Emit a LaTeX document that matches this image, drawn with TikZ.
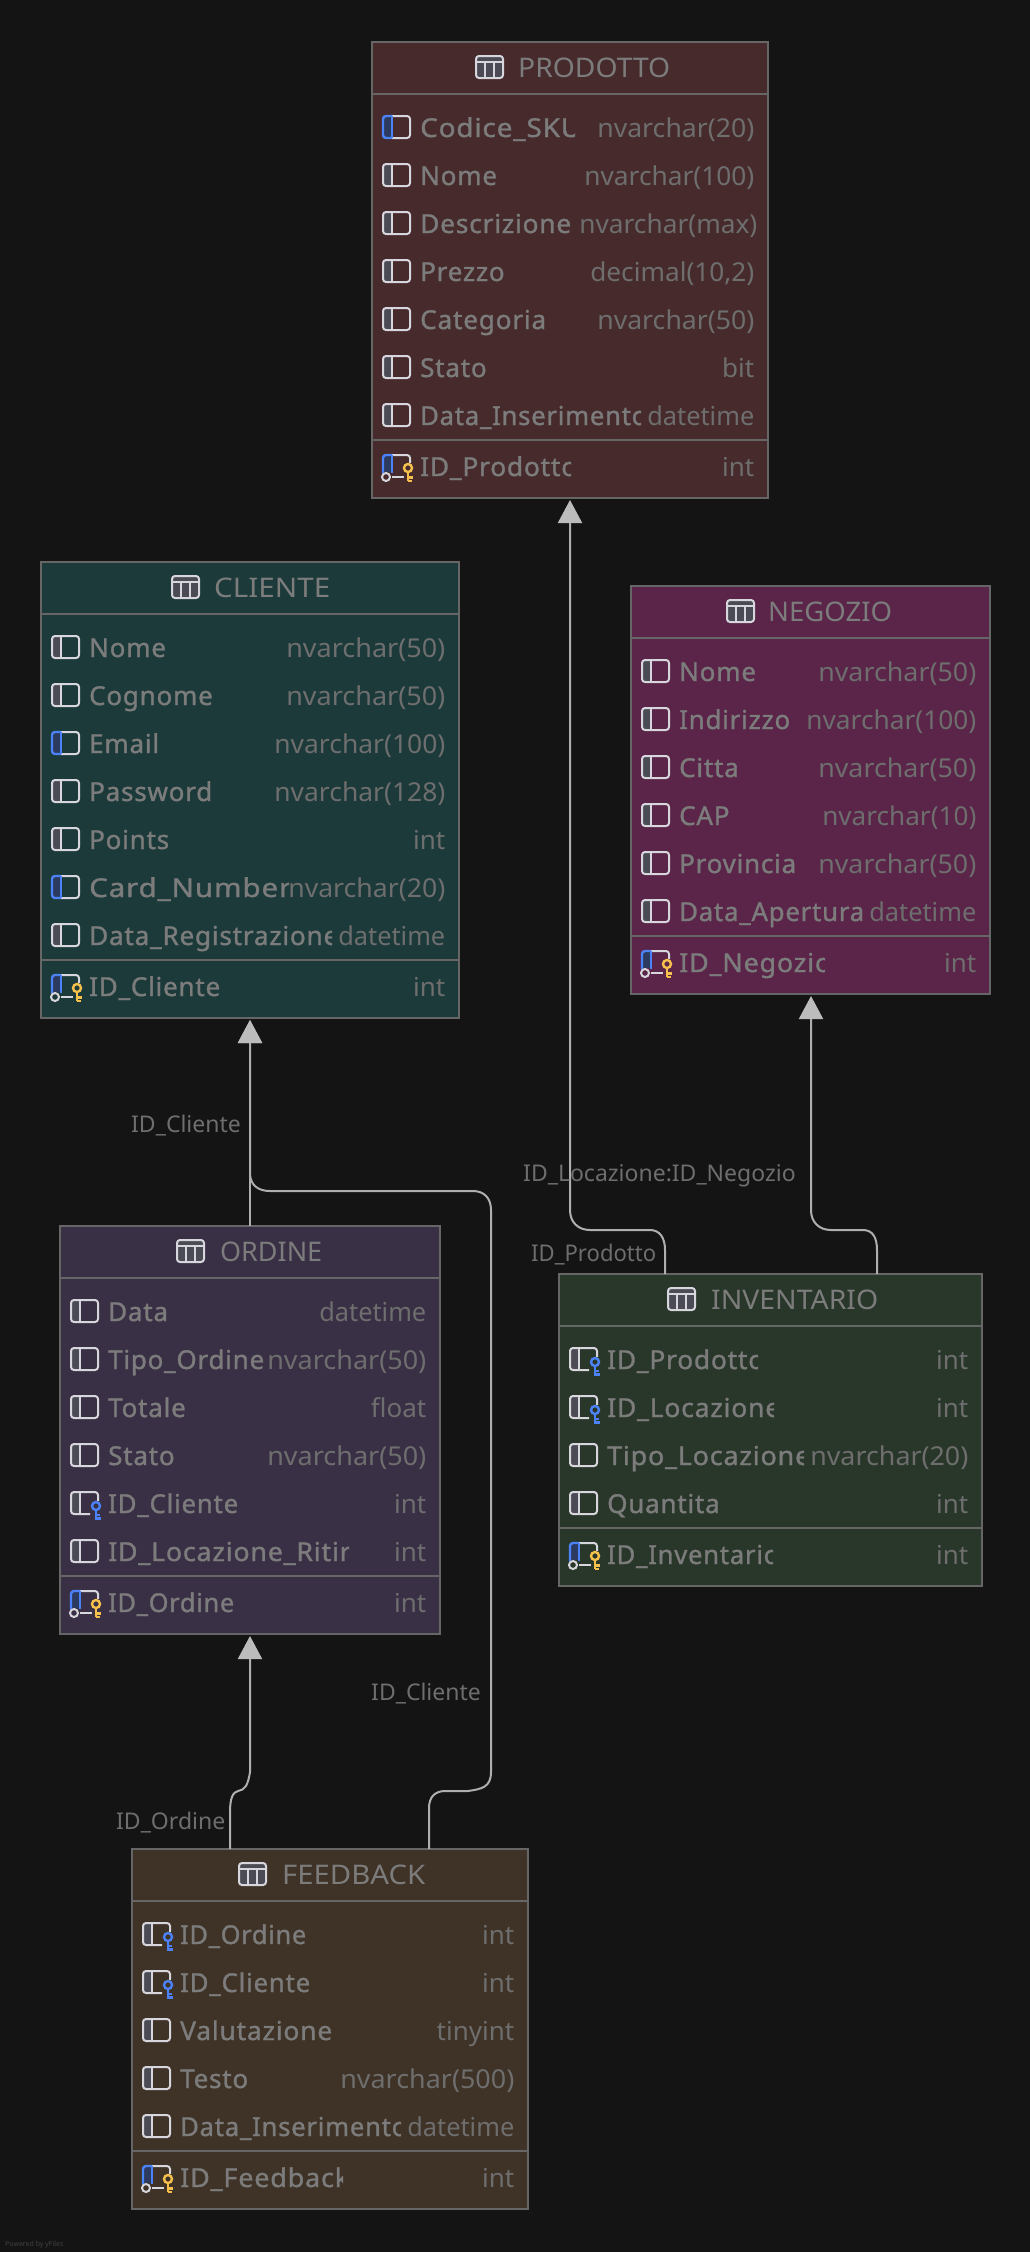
\documentclass[tikz,border=0pt]{standalone}
\usepackage{graphicx}
\usepackage{fontspec}
\usetikzlibrary{arrows.meta}
\setmainfont{Noto Sans}
\newfontfamily\namefont[FakeBold=1.2,LetterSpace=3]{Noto Sans}
\newfontfamily\plainfont{Noto Sans}
\definecolor{bgc}{HTML}{141414}
\definecolor{bordc}{HTML}{666666}
\definecolor{namec}{HTML}{7C7C7C}
\definecolor{titlec}{HTML}{7C7C7C}
\definecolor{typec}{HTML}{6E6E6E}
\definecolor{lblc}{HTML}{6E6E6E}
\definecolor{linec}{HTML}{AFAFAF}
\definecolor{tipc}{HTML}{BCBCBC}
\definecolor{iconl}{HTML}{D6D6DC}
\definecolor{iconf}{HTML}{4A4B55}
\definecolor{iconb}{HTML}{4C82F7}
\definecolor{icond}{HTML}{2B3A5E}
\definecolor{icony}{HTML}{F5C04C}
\definecolor{cprod}{HTML}{472B2C}
\definecolor{ccli}{HTML}{1C3A3A}
\definecolor{cneg}{HTML}{5A2549}
\definecolor{cord}{HTML}{3A3046}
\definecolor{cinv}{HTML}{29372A}
\definecolor{cfee}{HTML}{3F3226}
\tikzset{
  x=1pt,y=-1pt,
  tablebox/.style={draw=bordc,line width=2pt,inner sep=0pt,outer sep=0pt,anchor=north west},
  rule/.style={draw=bordc,line width=2pt},
  titletxt/.style={inner sep=0pt,anchor=base west,text=titlec,font=\plainfont\fontsize{27}{30}\selectfont},
  nametxt/.style={inner sep=0pt,anchor=base west,text=namec,font=\namefont\fontsize{26}{30}\selectfont},
  typetxt/.style={inner sep=0pt,anchor=base east,text=typec,font=\plainfont\fontsize{26}{30}\selectfont},
  lbltxt/.style={inner sep=0pt,anchor=base west,text=lblc,font=\plainfont\fontsize{23}{28}\selectfont},
  conn/.style={draw=linec,line width=2pt},
  arrowed/.style={conn,-{Triangle[length=23pt,width=24pt,color=tipc]}},
  il/.style={draw=iconl,line width=2pt},
  ib/.style={draw=iconb,line width=2.4pt},
  iy/.style={draw=icony,line width=2.4pt},
  ibk/.style={draw=iconb,line width=2.4pt},
}
\newcount\ypos \newcount\nid \newcount\tL \newcount\tR
\newcommand\fitw[2]{\setbox0=\hbox{#2}\pgfmathsetmacro\sx{(#1)/\the\wd0}\scalebox{\sx}[1]{#2}}
\newcommand\tablehead[9]{% name,left,top,right,height,fill,title,iconx,titlex
  \global\tL=#2\relax \global\tR=#4\relax
  \node[tablebox,fill=#6,minimum width=#4-#2,minimum height=#5] (#1) at (#2,#3) {};
  \draw[rule] (#2,#3+52) -- (#4,#3+52);
  \fill[iconf,rounded corners=3pt] (#8,#3+14) rectangle (#8+27,#3+36);
  \draw[il,rounded corners=3pt] (#8,#3+14) rectangle (#8+27,#3+36);
  \draw[il] (#8,#3+20) -- (#8+27,#3+20) (#8+9,#3+20) -- (#8+9,#3+36) (#8+18,#3+20) -- (#8+18,#3+36);
  \node[titletxt] (#1title) at (#9,#3+35) {#7};
  \global\ypos=\numexpr#3+85\relax
}
\newcommand\iconplain{%
  \fill[iconf] (1,-10) rectangle (9,10);
  \draw[il,rounded corners=3pt] (0,-11) rectangle (27,11);
  \draw[il] (9,-11) -- (9,11);
}
\newcommand\iconuni{%
  \fill[icond] (1,-10) rectangle (9,10);
  \draw[il,rounded corners=3pt] (9,-11) -- (27,-11) -- (27,11) -- (9,11);
  \draw[ib,rounded corners=3pt] (9,-11) -- (0,-11) -- (0,11) -- (9,11);
  \draw[ib] (9,-11) -- (9,11);
}
\newcommand\iconfk{%
  \fill[iconf] (1,-10) rectangle (9,10);
  \draw[il,rounded corners=3pt] (19,11) -- (0,11) -- (0,-11) -- (27,-11) -- (27,-2);
  \draw[il] (9,-11) -- (9,11);
  \draw[ibk] (25,3) circle[radius=4];
  \draw[ibk] (25,7) -- (25,15.5) -- (30,15.5) (25,12) -- (29,12);
}
\newcommand\iconpk{%
  \fill[icond] (1,-10) rectangle (9,6);
  \draw[il,rounded corners=3pt] (9,-11) -- (27,-11) -- (27,-3);
  \draw[il] (9,11) -- (21,11);
  \draw[ib,rounded corners=3pt] (0,7) -- (0,-11) -- (9,-11);
  \draw[ib] (9,-11) -- (9,7);
  \draw[il] (3,11) circle[radius=4];
  \draw[iy] (25,2) circle[radius=4];
  \draw[iy] (25,6) -- (25,15) (25,11.5) -- (29.5,11.5) (25,15) -- (28.5,15);
}
\newcommand\fldcore[5]{% cut,kind,name,clip right,type
  \begin{scope}[shift={(\the\tL+11,\the\ypos)}]
    \csname icon#2\endcsname
  \end{scope}
  \global\advance\nid by 1
  \ifnum#4<\numexpr\tR-30\relax
    \begin{scope}
      \clip (\the\tL+46,\the\ypos-24) rectangle (#4,\the\ypos+24);
      \node[nametxt] (nm\the\nid) at (\the\tL+48,\the\ypos+10) {\fitw{#4-\the\tL-48+#1}{#3}};
    \end{scope}
  \else
    \node[nametxt] (nm\the\nid) at (\the\tL+48,\the\ypos+10) {#3};
  \fi
  \node[typetxt] (ty\the\nid) at (\the\tR-13.5,\the\ypos+10) {#5};
  \global\advance\ypos by 48
}
\newcommand\fld{\fldcore{6}}
\newcommand\fldfull{\fldcore{0}}
\newcommand\sepline{%
  \draw[rule] (\the\tL,\the\ypos-23) -- (\the\tR,\the\ypos-23);
  \global\advance\ypos by 3
}
\begin{document}
\begin{tikzpicture}
\fill[bgc] (0,0) rectangle (1030,2252);
\useasboundingbox (0,0) rectangle (1030,2252);

% PRODOTTO
\tablehead{prodotto}{372}{42}{768}{456}{cprod}{\fitw{152}{PRODOTTO}}{476}{518}
\fld{uni}{Codice\_SKU}{575}{\fitw{157}{nvarchar(20)}}
\fld{plain}{Nome}{760}{\fitw{170}{nvarchar(100)}}
\fldfull{plain}{Descrizione}{571}{\fitw{178}{nvarchar(max)}\kern-3pt}
\fld{plain}{Prezzo}{760}{\fitw{164}{decimal(10,2)}}
\fldfull{plain}{Categoria}{546}{\fitw{157}{nvarchar(50)}}
\fld{plain}{Stato}{760}{bit}
\fld{plain}{Data\_Inserimento}{641}{\fitw{107}{datetime}}
\sepline
\fld{pk}{ID\_Prodotto}{571}{int}

% CLIENTE
\tablehead{cliente}{41}{562}{459}{456}{ccli}{\fitw{116}{CLIENTE}}{172}{214}
\fld{plain}{Nome}{450}{\fitw{159}{nvarchar(50)}}
\fld{plain}{Cognome}{450}{\fitw{159}{nvarchar(50)}}
\fld{uni}{Email}{450}{\fitw{171}{nvarchar(100)}}
\fld{plain}{Password}{450}{\fitw{171}{nvarchar(128)}}
\fld{plain}{Points}{450}{int}
\fldcore{2}{uni}{Card\_Number}{289}{\fitw{157}{nvarchar(20)}}
\fld{plain}{Data\_Registrazione}{332}{\fitw{107}{datetime}}
\sepline
\fldfull{pk}{ID\_Cliente}{220}{int}

% NEGOZIO
\tablehead{negozio}{631}{586}{990}{408}{cneg}{\fitw{124}{NEGOZIO}}{727}{768}
\fld{plain}{Nome}{980}{\fitw{158}{nvarchar(50)}}
\fldfull{plain}{Indirizzo}{790}{\fitw{170}{nvarchar(100)}}
\fld{plain}{Citta}{980}{\fitw{158}{nvarchar(50)}}
\fld{plain}{CAP}{980}{\fitw{154}{nvarchar(10)}}
\fldfull{plain}{Provincia}{796}{\fitw{158}{nvarchar(50)}}
\fldcore{2}{plain}{Data\_Apertura}{862}{\fitw{107}{datetime}}
\sepline
\fld{pk}{ID\_Negozio}{825}{int}

% ORDINE
\tablehead{ordine}{60}{1226}{440}{408}{cord}{\fitw{102}{ORDINE}}{177}{220}
\fld{plain}{Data}{430}{\fitw{107}{datetime}}
\fldfull{plain}{Tipo\_Ordine}{264}{\fitw{159}{nvarchar(50)}}
\fld{plain}{Totale}{430}{float}
\fld{plain}{Stato}{430}{\fitw{159}{nvarchar(50)}}
\fldfull{fk}{ID\_Cliente}{238}{int}
\fldcore{18}{plain}{ID\_Locazione\_Ritiro}{349}{int}
\sepline
\fldfull{pk}{ID\_Ordine}{234}{int}

% INVENTARIO
\tablehead{inventario}{559}{1274}{982}{312}{cinv}{\fitw{167}{INVENTARIO}}{668}{711}
\fld{fk}{ID\_Prodotto}{758}{int}
\fld{fk}{ID\_Locazione}{774}{int}
\fld{plain}{Tipo\_Locazione}{804}{\fitw{158}{nvarchar(20)}}
\fld{plain}{Quantita}{970}{int}
\sepline
\fld{pk}{ID\_Inventario}{773}{int}

% FEEDBACK
\tablehead{feedback}{132}{1849}{528}{360}{cfee}{\fitw{143}{FEEDBACK}}{239}{282}
\fldfull{fk}{ID\_Ordine}{306}{int}
\fldfull{fk}{ID\_Cliente}{310}{int}
\fldfull{plain}{Valutazione}{332}{tinyint}
\fld{plain}{Testo}{520}{\fitw{174}{nvarchar(500)}}
\fld{plain}{Data\_Inserimento}{401}{\fitw{107}{datetime}}
\sepline
\fld{pk}{ID\_Feedback}{343}{int}

% connectors
\draw[arrowed] ([xshift=106pt]inventario.north west) -- (665,1250)
  .. controls (665,1238) and (660,1230) .. (650,1230) -- (590,1230)
  .. controls (578,1230) and (570,1222) .. (570,1210) -- ([xshift=198pt,yshift=-2pt]prodotto.south west);
\draw[arrowed] ([xshift=318pt]inventario.north west) -- (877,1250)
  .. controls (877,1238) and (873,1230) .. (863,1230) -- (831,1230)
  .. controls (819,1230) and (811,1222) .. (811,1210) -- ([xshift=180pt,yshift=-2pt]negozio.south west);
\draw[arrowed] ([xshift=190pt]ordine.north west) -- ([xshift=209pt,yshift=-2pt]cliente.south west);
\draw[arrowed] ([xshift=297pt]feedback.north west) -- (429,1808)
  .. controls (429,1797) and (435,1791) .. (445,1791) -- (468,1791)
  .. controls (482,1789) and (491,1787) .. (491,1772) -- (491,1210)
  .. controls (491,1198) and (484,1191) .. (473,1191) -- (270,1191)
  .. controls (258,1191) and (250,1185) .. (250,1173) -- ([xshift=209pt,yshift=-2pt]cliente.south west);
\draw[arrowed] ([xshift=98pt]feedback.north west) -- (230,1812)
  .. controls (230,1798) and (233,1792) .. (238,1791)
  .. controls (245,1790) and (248,1785) .. (250,1772)
  -- ([xshift=190pt,yshift=-2pt]ordine.south west);

% connector labels
\node[lbltxt] (lblA) at (131,1132) {ID\_Cliente};
\node[lbltxt] (lblB) at (371,1700) {ID\_Cliente};
\node[lbltxt] (lblC) at (116,1829) {ID\_Ordine};
\node[lbltxt] (lblD) at (523,1181) {ID\_Locazione:ID\_Negozio};
\node[lbltxt] (lblE) at (531,1261) {\fitw{125}{ID\_Prodotto}};

% watermark
\node[inner sep=0pt,anchor=base west,text=black!75!white,font=\plainfont\fontsize{7}{8}\selectfont] (wm) at (5,2246) {Powered by yFiles};
\end{tikzpicture}
\end{document}
